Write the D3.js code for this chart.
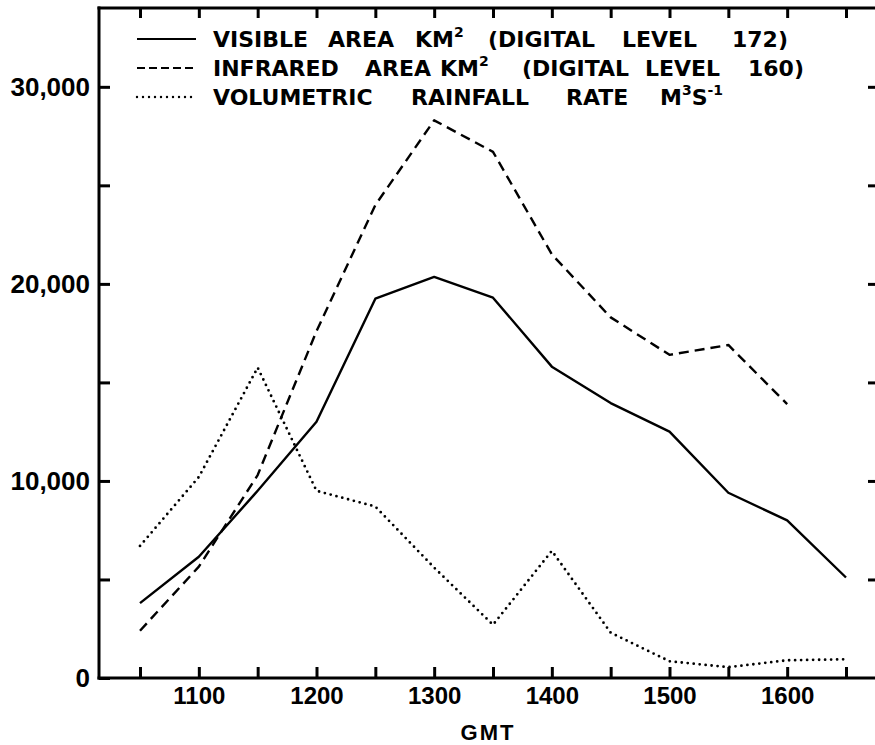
<!DOCTYPE html>
<html>
<head>
<meta charset="utf-8">
<script src="https://cdn.jsdelivr.net/npm/d3@7"></script>
<style>
  body { margin: 0; background: #fff; }
  svg { display: block; }
</style>
</head>
<body>
<svg></svg>
<script>
// values
const gmt = [1050, 1100, 1150, 1200, 1250, 1300, 1350, 1400, 1450, 1500, 1550, 1600, 1650];
const visibleArea = [3800, 6150, 9500, 13000, 19250, 20350, 19300, 15800, 13950, 12500, 9400, 8000, 5100];
const infraredArea = [2400, 5650, 10300, 17600, 24000, 28300, 26700, 21500, 18300, 16400, 16900, 13900];
const rainfallRate = [6700, 10200, 15750, 9500, 8700, 5600, 2700, 6450, 2300, 850, 550, 900, 950];

const yTickValues = [0, 5000, 10000, 15000, 20000, 25000, 30000];
const yLabelValues = [0, 10000, 20000, 30000];
const xLabelValues = [1100, 1200, 1300, 1400, 1500, 1600];
const xTitle = "GMT";

// "^" marks a superscript
const legendLabels = [
  "VISIBLE AREA KM^2 (DIGITAL LEVEL 172)",
  "INFRARED AREA KM^2 (DIGITAL LEVEL 160)",
  "VOLUMETRIC RAINFALL RATE M^3S^-1"
];
const legendDash = ["none", "10,6", "0,6"];

const w = 875;
const h = 745;
const plotL = 99, plotR = 875, plotT = 8, plotB = 678;

const svg = d3.select("svg")
  .attr("width", w)
  .attr("height", h);

const x = d3.scaleLinear()
  .domain([1050, 1650])
  .range([140, 846]);

const y = d3.scaleLinear()
  .domain([0, 34000])
  .range([plotB, plotT]);

const numFont = "'Liberation Sans', Arial, sans-serif";
const txtFont = "'DejaVu Sans', sans-serif";

// frame lines
const frame = svg.append("g").attr("stroke", "#000").attr("stroke-width", 3);
frame.append("line").attr("x1", plotL).attr("x2", plotL).attr("y1", plotT - 1.5).attr("y2", plotB + 1.5);
frame.append("line").attr("x1", plotL - 1.5).attr("x2", plotR).attr("y1", plotT).attr("y2", plotT);
frame.append("line").attr("x1", plotL - 1.5).attr("x2", plotR).attr("y1", plotB).attr("y2", plotB);

const styleAxis = (size) => (g) => {
  g.select(".domain").remove();
  g.selectAll(".tick line").attr("stroke", "#000").attr("stroke-width", 3);
  g.selectAll(".tick text")
    .attr("fill", "#000")
    .attr("font-family", numFont)
    .attr("font-weight", "bold")
    .attr("font-size", size);
};

svg.append("g")
  .attr("transform", "translate(" + plotL + ",0)")
  .call(d3.axisLeft(y)
    .tickValues(yTickValues)
    .tickSize(-11)
    .tickPadding(9)
    .tickFormat(d => yLabelValues.includes(d) ? d3.format(",")(d) : ""))
  .call(styleAxis(26));

svg.append("g")
  .attr("transform", "translate(0," + plotB + ")")
  .call(d3.axisBottom(x)
    .tickValues(gmt)
    .tickSize(-11)
    .tickPadding(9)
    .tickFormat(d => xLabelValues.includes(d) ? d : ""))
  .call(styleAxis(24));

svg.append("g")
  .attr("transform", "translate(0," + plotT + ")")
  .call(d3.axisTop(x).tickValues(gmt).tickSize(-10).tickFormat(""))
  .call(styleAxis(24));

svg.append("g")
  .attr("transform", "translate(" + plotR + ",0)")
  .call(d3.axisRight(y).tickValues(yTickValues.filter(d => d > 0)).tickSize(-7).tickFormat(""))
  .call(styleAxis(24));

svg.append("text")
  .attr("x", 488)
  .attr("y", 740)
  .attr("text-anchor", "middle")
  .attr("font-family", numFont)
  .attr("font-weight", "bold")
  .attr("font-size", 22)
  .attr("letter-spacing", 2)
  .text(xTitle);

// series
const line = d3.line()
  .x(d => x(d[0]))
  .y(d => y(d[1]));

const series = [visibleArea, infraredArea, rainfallRate];
series.forEach((vals, i) => {
  svg.append("path")
    .datum(d3.zip(gmt, vals))
    .attr("d", line)
    .attr("fill", "none")
    .attr("stroke", "#000")
    .attr("stroke-width", i === 2 ? 2.8 : 2.4)
    .attr("stroke-linecap", i === 2 ? "round" : "butt")
    .attr("stroke-linejoin", "round")
    .attr("stroke-dasharray", legendDash[i]);
});

// legend
const legendWordX = [
  [213, 328, 415, 488, 622, 732],
  [213, 365, 440, 522, 645, 748],
  [213, 411, 566, 660]
];
const legendY = [39, 68, 97];

legendLabels.forEach((label, i) => {
  svg.append("line")
    .attr("x1", 137).attr("x2", 196)
    .attr("y1", legendY[i]).attr("y2", legendY[i])
    .attr("stroke", "#000")
    .attr("stroke-width", i === 2 ? 2.4 : 2.2)
    .attr("stroke-linecap", i === 2 ? "round" : "butt")
    .attr("stroke-dasharray", i === 1 ? "8,4" : legendDash[i]);

  const base = legendY[i] + 8;
  const t = svg.append("text")
    .attr("font-family", txtFont)
    .attr("font-weight", "bold")
    .attr("font-size", 22)
    .attr("fill", "#000");

  label.split(" ").forEach((word, j) => {
    const parts = word.split(/\^(-?\d+)/);
    parts.forEach((p, k) => {
      if (p === "") return;
      const sup = k % 2 === 1;
      const ts = t.append("tspan")
        .attr("y", sup ? base - 10 : base)
        .attr("font-size", sup ? 14 : 22)
        .text(p);
      if (k === 0) ts.attr("x", legendWordX[i][j]);
    });
  });
});
</script>
</body>
</html>
